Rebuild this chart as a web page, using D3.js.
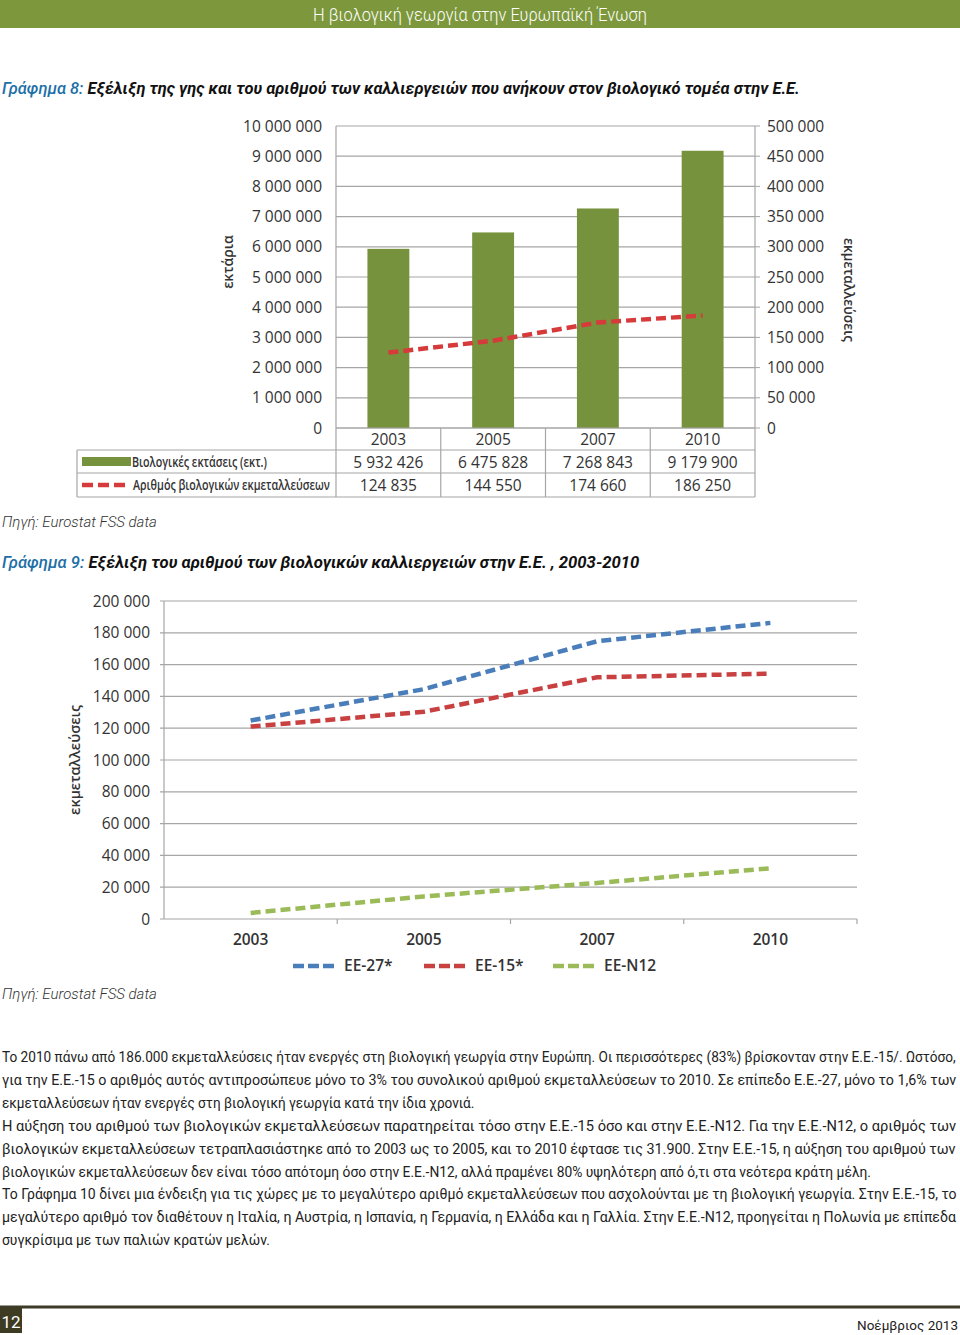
<!DOCTYPE html>
<html><head><meta charset="utf-8">
<script src="https://cdn.jsdelivr.net/npm/d3@7"></script>
<style>html,body{margin:0;padding:0;background:#fff;}svg{display:block;}</style>
</head><body>
<script>
// ---------- data ----------
const years = ["2003", "2005", "2007", "2010"];
const organicArea = [5932426, 6475828, 7268843, 9179900];
const organicHoldings = [124835, 144550, 174660, 186250];
const leftTicks = [0, 1000000, 2000000, 3000000, 4000000, 5000000, 6000000, 7000000, 8000000, 9000000, 10000000];
const rightTicks = [0, 50000, 100000, 150000, 200000, 250000, 300000, 350000, 400000, 450000, 500000];
const eu27 = [124835, 144550, 174660, 186250];
const eu15 = [121000, 130350, 152000, 154350];
const eun12 = [3835, 14200, 22660, 31900];
const chart2Ticks = [0, 20000, 40000, 60000, 80000, 100000, 120000, 140000, 160000, 180000, 200000];
const seriesNames = ["ΕΕ-27*", "ΕΕ-15*", "ΕΕ-N12"];
const paragraph = [
  ["Το 2010 πάνω από 186.000 εκμεταλλεύσεις ήταν ενεργές στη βιολογική γεωργία στην Ευρώπη. Οι περισσότερες (83%) βρίσκονταν στην Ε.Ε.-15/. Ωστόσο,", 955],
  ["για την Ε.Ε.-15 ο αριθμός αυτός αντιπροσώπευε μόνο το 3% του συνολικού αριθμού εκμεταλλεύσεων το 2010. Σε επίπεδο Ε.Ε.-27, μόνο το 1,6% των", 955],
  ["εκμεταλλεύσεων ήταν ενεργές στη βιολογική γεωργία κατά την ίδια χρονιά.", 473],
  ["Η αύξηση του αριθμού των βιολογικών εκμεταλλεύσεων παρατηρείται τόσο στην Ε.Ε.-15 όσο και στην Ε.Ε.-N12. Για την Ε.Ε.-N12, ο αριθμός των", 955],
  ["βιολογικών εκμεταλλεύσεων τετραπλασιάστηκε από το 2003 ως το 2005, και το 2010 έφτασε τις 31.900. Στην Ε.Ε.-15, η αύξηση του αριθμού των", 955],
  ["βιολογικών εκμεταλλεύσεων δεν είναι τόσο απότομη όσο στην Ε.Ε.-N12, αλλά πραμένει 80% υψηλότερη από ό,τι στα νεότερα κράτη μέλη.", 870],
  ["Το Γράφημα 10 δίνει μια ένδειξη για τις χώρες με το μεγαλύτερο αριθμό εκμεταλλεύσεων που ασχολούνται με τη βιολογική γεωργία. Στην Ε.Ε.-15, το", 955],
  ["μεγαλύτερο αριθμό τον διαθέτουν η Ιταλία, η Αυστρία, η Ισπανία, η Γερμανία, η Ελλάδα και η Γαλλία. Στην Ε.Ε.-N12, προηγείται η Πολωνία με επίπεδα", 955],
  ["συγκρίσιμα με των παλιών κρατών μελών.", 268]
];

const fmt = v => d3.format(",")(v).replace(/,/g, " ");
const W = 960, H = 1335;
const svg = d3.select("body").append("svg").attr("width", W).attr("height", H)
  .style("font-family", "'Open Sans', sans-serif");

// place a text at (x,y) and squeeze it horizontally so that it spans `target` px
function fit(sel, x, y, target, size, rot) {
  sel.attr("x", 0).attr("y", 0).style("font-size", size + "px");
  const n = sel.node().getComputedTextLength();
  const k = n > target ? target / n : 1;
  if (n < target - 1) sel.attr("textLength", target).attr("lengthAdjust", "spacing");
  sel.attr("transform", `translate(${x},${y})` + (rot ? ` rotate(${rot})` : "") + ` scale(${k},1)`);
  return sel;
}

// ---------- page header ----------
svg.append("rect").attr("x", 0).attr("y", 0).attr("width", W).attr("height", 28).attr("fill", "#7d983c");
fit(svg.append("text").attr("text-anchor", "middle")
  .attr("fill", "#fff").style("font-family", "Roboto, sans-serif").style("font-weight", 300)
  .text("Η βιολογική γεωργία στην Ευρωπαϊκή Ένωση"), 480, 21, 334, 17.5);

function title(y, num, rest, len) {
  const t = svg.append("text")
    .style("font-family", "Roboto, sans-serif").style("font-style", "italic");
  t.append("tspan").attr("fill", "#1d6fa8").style("font-weight", 500).text(num);
  t.append("tspan").attr("fill", "#111").style("font-weight", 700).text(rest);
  fit(t, 2, y, len, 17);
}
title(94, "Γράφημα 8: ", "Εξέλιξη της γης και του αριθμού των καλλιεργειών που ανήκουν στον βιολογικό τομέα στην Ε.Ε.", 798);
title(568, "Γράφημα 9: ", "Εξέλιξη του αριθμού των βιολογικών καλλιεργειών στην Ε.Ε. , 2003-2010", 638);

function source(y) {
  fit(svg.append("text").attr("fill", "#333")
    .style("font-family", "Roboto, sans-serif").style("font-style", "italic").style("font-weight", 300)
    .text("Πηγή: Eurostat FSS data"), 2, y, 155, 15);
}
source(527);
source(999);

// ---------- chart 1 ----------
const c1 = svg.append("g");
const x1 = d3.scaleBand().domain(years).range([336, 755]);
const xb = d3.scaleBand().domain(years).range([336, 755]).paddingInner(0.6).paddingOuter(0.3);
const yL = d3.scaleLinear().domain([0, 10000000]).range([428, 126]);
const yR = d3.scaleLinear().domain([0, 500000]).range([428, 126]);
const grid = "#a6a6a6", ink = "#333";

c1.selectAll("line.g").data(leftTicks).join("line")
  .attr("x1", 336).attr("x2", 755).attr("y1", d => yL(d)).attr("y2", d => yL(d))
  .attr("stroke", grid).attr("stroke-width", 1.2);
c1.selectAll("text.l").data(leftTicks).join("text")
  .attr("x", 322).attr("y", d => yL(d) + 5.5).attr("text-anchor", "end")
  .attr("fill", ink).style("font-size", "15.5px").text(d => fmt(d));
c1.selectAll("text.r").data(rightTicks).join("text")
  .attr("x", 767).attr("y", d => yR(d) + 5.5).attr("text-anchor", "start")
  .attr("fill", ink).style("font-size", "15.5px").text(d => fmt(d));
c1.selectAll("line.rt").data(rightTicks).join("line")
  .attr("x1", 755).attr("x2", 760).attr("y1", d => yR(d)).attr("y2", d => yR(d))
  .attr("stroke", grid);
[336, 755].forEach(x => c1.append("line").attr("x1", x).attr("x2", x).attr("y1", 126).attr("y2", 428)
  .attr("stroke", grid).attr("stroke-width", 1.2));

c1.selectAll("rect.bar").data(organicArea).join("rect")
  .attr("x", (d, i) => xb(years[i])).attr("width", xb.bandwidth())
  .attr("y", d => yL(d)).attr("height", d => 428 - yL(d)).attr("fill", "#76923c");

c1.append("path").datum(organicHoldings)
  .attr("d", d3.line().x((d, i) => x1(years[i]) + x1.bandwidth() / 2).y(d => yR(d)))
  .attr("fill", "none").attr("stroke", "#d63a3a").attr("stroke-width", 4.5).attr("stroke-dasharray", "10,5");

c1.append("text").attr("transform", "translate(233,262) rotate(-90)").attr("text-anchor", "middle")
  .attr("fill", ink).style("font-size", "14px").style("font-weight", 600).text("εκτάρια");
fit(c1.append("text").attr("text-anchor", "middle")
  .attr("fill", ink).style("font-weight", 600).text("εκμεταλλεύσεις"), 844, 290, 104, 14, 90);

// data table
const tb = c1.append("g").attr("stroke", grid).attr("stroke-width", 1.2);
tb.append("line").attr("x1", 336).attr("x2", 755).attr("y1", 428).attr("y2", 428);
[450, 473, 497].forEach(y => tb.append("line").attr("x1", 77).attr("x2", 755).attr("y1", y).attr("y2", y));
tb.append("line").attr("x1", 77).attr("x2", 77).attr("y1", 450).attr("y2", 497);
years.forEach(yr => tb.append("line").attr("x1", x1(yr)).attr("x2", x1(yr)).attr("y1", 428).attr("y2", 497));
tb.append("line").attr("x1", 755).attr("x2", 755).attr("y1", 428).attr("y2", 497);

c1.selectAll("text.yr").data(years).join("text")
  .attr("x", d => x1(d) + x1.bandwidth() / 2).attr("y", 445).attr("text-anchor", "middle")
  .attr("fill", ink).style("font-size", "15.5px").text(d => d);
c1.selectAll("text.v1").data(organicArea).join("text")
  .attr("x", (d, i) => x1(years[i]) + x1.bandwidth() / 2).attr("y", 468).attr("text-anchor", "middle")
  .attr("fill", ink).style("font-size", "15.5px").text(d => fmt(d));
c1.selectAll("text.v2").data(organicHoldings).join("text")
  .attr("x", (d, i) => x1(years[i]) + x1.bandwidth() / 2).attr("y", 491).attr("text-anchor", "middle")
  .attr("fill", ink).style("font-size", "15.5px").text(d => fmt(d));

c1.append("rect").attr("x", 82).attr("y", 457).attr("width", 49).attr("height", 9).attr("fill", "#76923c");
fit(c1.append("text").attr("fill", ink)
  .style("font-weight", 600).text("Βιολογικές εκτάσεις (εκτ.)"), 132, 467, 135, 13.5);
c1.append("line").attr("x1", 82).attr("x2", 128).attr("y1", 485).attr("y2", 485)
  .attr("stroke", "#d63a3a").attr("stroke-width", 4.5).attr("stroke-dasharray", "11,5");
fit(c1.append("text").attr("fill", ink)
  .style("font-weight", 600).text("Αριθμός βιολογικών εκμεταλλεύσεων"), 133, 490, 197, 13.5);

// ---------- chart 2 ----------
const c2 = svg.append("g");
const x2 = d3.scaleBand().domain(years).range([164, 857]);
const y2 = d3.scaleLinear().domain([0, 200000]).range([919, 601]);
c2.selectAll("line.g").data(chart2Ticks).join("line")
  .attr("x1", 160).attr("x2", 857).attr("y1", d => y2(d)).attr("y2", d => y2(d))
  .attr("stroke", grid).attr("stroke-width", 1.2);
c2.append("line").attr("x1", 164).attr("x2", 164).attr("y1", 601).attr("y2", 919)
  .attr("stroke", grid).attr("stroke-width", 1.2);
c2.selectAll("line.xt").data(years).join("line")
  .attr("x1", d => x2(d) + x2.step()).attr("x2", d => x2(d) + x2.step())
  .attr("y1", 919).attr("y2", 924).attr("stroke", grid).attr("stroke-width", 1.2);
c2.selectAll("text.l").data(chart2Ticks).join("text")
  .attr("x", 150).attr("y", d => y2(d) + 5.5).attr("text-anchor", "end")
  .attr("fill", ink).style("font-size", "15.5px").text(d => fmt(d));
c2.selectAll("text.x").data(years).join("text")
  .attr("x", d => x2(d) + x2.bandwidth() / 2).attr("y", 945).attr("text-anchor", "middle")
  .attr("fill", ink).style("font-size", "15.5px").style("font-weight", 600).text(d => d);
fit(c2.append("text").attr("text-anchor", "middle")
  .attr("fill", ink).style("font-weight", 600).text("εκμεταλλεύσεις"), 80, 760, 110, 14.5, -90);

const colors = ["#4a7ebb", "#c94040", "#9bbb59"];
const lineGen = d3.line().x((d, i) => x2(years[i]) + x2.bandwidth() / 2).y(d => y2(d));
[eu27, eu15, eun12].forEach((s, k) => {
  c2.append("path").datum(s).attr("d", lineGen).attr("fill", "none")
    .attr("stroke", colors[k]).attr("stroke-width", 4.5).attr("stroke-dasharray", "10,5");
});
const legX = [293, 424, 553];
seriesNames.forEach((n, k) => {
  c2.append("line").attr("x1", legX[k]).attr("x2", legX[k] + 42).attr("y1", 966).attr("y2", 966)
    .attr("stroke", colors[k]).attr("stroke-width", 4.5).attr("stroke-dasharray", "11,4");
  c2.append("text").attr("x", legX[k] + 51).attr("y", 971).attr("fill", ink)
    .style("font-size", "15.5px").style("font-weight", 600).text(n);
});

// ---------- paragraph ----------
paragraph.forEach((p, i) => {
  fit(svg.append("text").attr("fill", "#222")
    .style("font-family", "Roboto, sans-serif").text(p[0]), 2, 1062 + i * 22.9, p[1], 15.5);
});

// ---------- footer ----------
svg.append("line").attr("x1", 0).attr("x2", W).attr("y1", 1307).attr("y2", 1307)
  .attr("stroke", "#3d3b27").attr("stroke-width", 3);
svg.append("rect").attr("x", 0).attr("y", 1308).attr("width", 22).attr("height", 25).attr("fill", "#3d3b22");
svg.append("text").attr("x", 11).attr("y", 1328).attr("text-anchor", "middle").attr("fill", "#fff")
  .style("font-family", "Roboto, sans-serif").style("font-size", "17px").text("12");
svg.append("text").attr("x", 958).attr("y", 1330).attr("text-anchor", "end").attr("fill", "#222")
  .style("font-family", "Roboto, sans-serif").style("font-size", "13.5px").text("Νοέμβριος 2013");
</script>
</body></html>
